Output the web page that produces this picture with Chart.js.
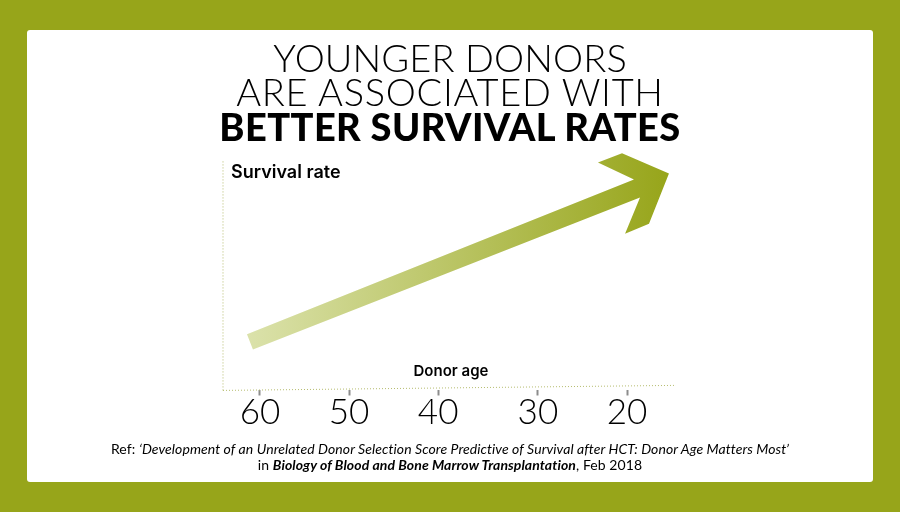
<!DOCTYPE html>
<html>
<head>
<meta charset="utf-8">
<script src="https://cdn.jsdelivr.net/npm/chart.js@4/dist/chart.umd.js"></script>
<style>
html, body { margin: 0; padding: 0; background: #97a51a; }
body { width: 900px; height: 512px; position: relative; overflow: hidden; font-family: Lato, sans-serif; color: #000; }
#card { position: absolute; left: 27px; top: 30px; width: 846px; height: 452px; background: #fff; border-radius: 3px; }
#chart { position: absolute; left: 0; top: 0; }
.head { position: absolute; left: 0; width: 900px; text-align: center; font-size: 38px; line-height: 35px; font-weight: 300; white-space: nowrap; }
.head b { font-weight: 900; letter-spacing: 0.4px; }
#ref { position: absolute; left: 0; width: 900px; top: 441px; text-align: center; font-size: 14px; line-height: 15.5px; letter-spacing: 0.08px; white-space: nowrap; }
</style>
</head>
<body>
<div id="card"></div>
<canvas id="chart" width="900" height="512"></canvas>
<div class="head" style="top:40px;letter-spacing:0.1px">YOUNGER DONORS</div>
<div class="head" style="top:74px;letter-spacing:0.7px">ARE ASSOCIATED WITH</div>
<div class="head" style="top:109px"><b>BETTER SURVIVAL RATES</b></div>
<div id="ref">Ref: <i>‘Development of an Unrelated Donor Selection Score Predictive of Survival after HCT: Donor Age Matters Most’</i><br>in <b><i>Biology of Blood and Bone Marrow Transplantation</i></b>, Feb 2018</div>
<script>
const tickLabels = ["60", "50", "40", "30", "20"];
// the printed axis is not evenly spaced, 30 and 20 sit a little further right
const tickStops = [60, 50, 40, 28.8, 18.8];
// outline of the arrow, going round from the tail
const arrowAges = [61.46, 18.02, 22.06, 19.36, 14.09, 16.33, 19.02, 17.34, 60.79];
const arrowRates = [24.1, 91.7, 99.1, 103.1, 94.3, 72.4, 68.0, 83.8, 17.5];
// the dotted axes lean slightly in the original
const xAxisAges = [64.15, 13.3];
const xAxisRates = [-0.4, 1.8];
const yAxisAges = [64.15, 64.15];
const yAxisRates = [-0.4, 100];

function toPoints(xs, ys) {
    return xs.map((x, i) => ({ x: x, y: ys[i] }));
}

function arrowColor(context) {
    const chart = context.chart;
    const xScale = chart.scales.x;
    if (!chart.chartArea || !xScale) {
        return "#97a51a";
    }
    const left = xScale.getPixelForValue(arrowAges[0]);
    const right = xScale.getPixelForValue(arrowAges[4]);
    if (!Number.isFinite(left) || !Number.isFinite(right)) {
        return "#97a51a";
    }
    const gradient = chart.ctx.createLinearGradient(left, 0, right, 0);
    gradient.addColorStop(0, "#dbe2ab");
    gradient.addColorStop(1, "#97a51a");
    return gradient;
}

function dottedAxis(xs, ys) {
    return {
        data: toPoints(xs, ys),
        showLine: true,
        borderColor: "#b4bb6c",
        borderWidth: 1,
        borderDash: [1, 2],
        pointRadius: 0,
        clip: false
    };
}

const axisText = {
    id: "axisText",
    afterDraw(chart) {
        const ctx = chart.ctx;
        const xScale = chart.scales.x;
        const yScale = chart.scales.y;
        ctx.save();
        ctx.fillStyle = "#000";
        ctx.font = "600 18px Inter, sans-serif";
        ctx.textBaseline = "middle";
        ctx.textAlign = "left";
        ctx.fillText("Survival rate", chart.chartArea.left + 8, yScale.getPixelForValue(94.5));
        ctx.font = "600 15px Inter, sans-serif";
        ctx.textAlign = "center";
        ctx.fillText("Donor age", xScale.getPixelForValue(38.56), yScale.getPixelForValue(7.9));
        ctx.restore();
    }
};

new Chart(document.getElementById("chart"), {
    type: "scatter",
    data: {
        datasets: [
            dottedAxis(xAxisAges, xAxisRates),
            dottedAxis(yAxisAges, yAxisRates),
            {
                data: toPoints(arrowAges, arrowRates),
                showLine: true,
                fill: "shape",
                backgroundColor: arrowColor,
                borderWidth: 0,
                tension: 0,
                pointRadius: 0,
                clip: false
            }
        ]
    },
    options: {
        responsive: false,
        animation: false,
        layout: { padding: { left: 215, right: 224, top: 149, bottom: 82.5 } },
        plugins: { legend: { display: false }, tooltip: { enabled: false } },
        scales: {
            x: {
                type: "linear",
                reverse: true,
                min: 13.3,
                max: 64.15,
                afterBuildTicks(scale) {
                    scale.ticks = tickStops.map((v) => ({ value: v }));
                },
                border: { display: false },
                grid: { drawOnChartArea: false, tickLength: 6, tickWidth: 2, tickColor: "#8c8c8c" },
                ticks: {
                    autoSkip: false,
                    maxRotation: 0,
                    padding: -4,
                    color: "#000",
                    font: { family: "Lato, sans-serif", size: 35, weight: "300" },
                    callback: (value, index) => tickLabels[index]
                }
            },
            y: {
                min: 0,
                max: 105,
                border: { display: false },
                grid: { display: false },
                ticks: { display: false }
            }
        }
    },
    plugins: [axisText]
});
</script>
</body>
</html>
